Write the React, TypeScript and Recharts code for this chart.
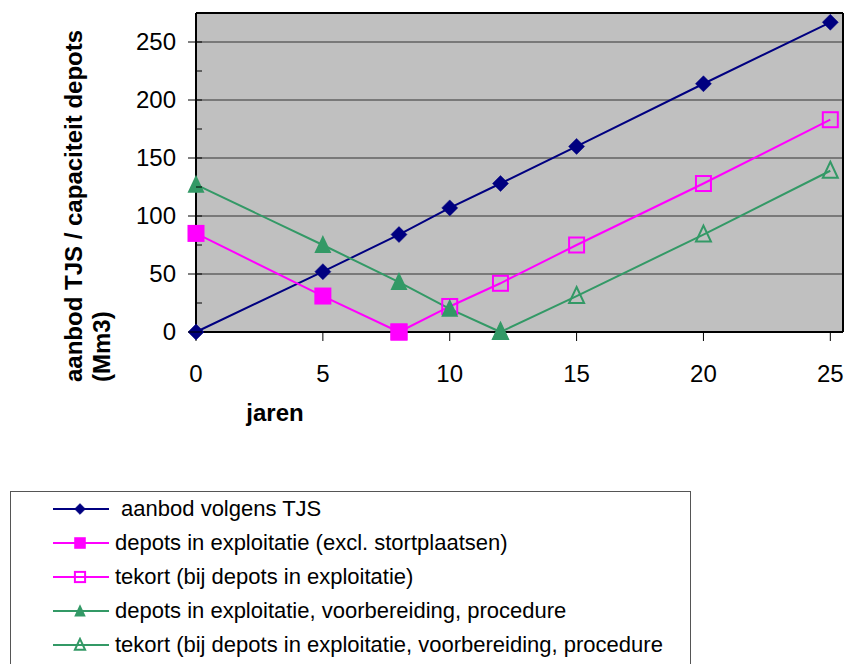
import React from 'react';
import { LineChart, Line, XAxis, YAxis, CartesianGrid, ReferenceLine } from 'recharts';

// Years and volumes (Mm3) per series
const aanbodYears = [0, 5, 8, 10, 12, 15, 20, 25];
const aanbodValues = [0, 52, 84, 107, 128, 160, 214, 267];

const depotsExplYears = [0, 5, 8];
const depotsExplValues = [85, 31, 0];

const tekortExplYears = [8, 10, 12, 15, 20, 25];
const tekortExplValues = [0, 22, 42, 75, 128, 183];

const depotsAllYears = [0, 5, 8, 10, 12];
const depotsAllValues = [127, 75, 43, 20, 0];

const tekortAllYears = [12, 15, 20, 25];
const tekortAllValues = [0, 31, 84, 139];

const xTicks = [0, 5, 10, 15, 20, 25];
const yTicks = [0, 25, 50, 75, 100, 125, 150, 175, 200, 225, 250];
const yLabelTicks = [0, 50, 100, 150, 200, 250];
const gridValues = [50, 100, 150, 200, 250];

const xMax = 25.5;
const yMax = 275;

const FONT = '"Liberation Sans", Arial, sans-serif';

type MarkerKind = 'diamond' | 'square' | 'squareOpen' | 'triangle' | 'triangleOpen';

interface Series {
  name: string;
  color: string;
  marker: MarkerKind;
  years: number[];
  values: number[];
}

const seriesList: Series[] = [
  { name: ' aanbod volgens TJS', color: '#000080', marker: 'diamond', years: aanbodYears, values: aanbodValues },
  { name: 'depots in exploitatie (excl. stortplaatsen)', color: '#ff00ff', marker: 'square', years: depotsExplYears, values: depotsExplValues },
  { name: 'tekort (bij depots in exploitatie)', color: '#ff00ff', marker: 'squareOpen', years: tekortExplYears, values: tekortExplValues },
  { name: 'depots in exploitatie, voorbereiding, procedure', color: '#339966', marker: 'triangle', years: depotsAllYears, values: depotsAllValues },
  { name: 'tekort (bij depots in exploitatie, voorbereiding, procedure', color: '#339966', marker: 'triangleOpen', years: tekortAllYears, values: tekortAllValues },
];

const toPoints = (xs: number[], ys: number[]) => xs.map((x, i) => ({ x, y: ys[i] }));

function markerShape(kind: MarkerKind, cx: number, cy: number, color: string, scale: number, key?: React.Key) {
  const s = scale;
  switch (kind) {
    case 'diamond': {
      const h = 8 * s;
      return <polygon key={key} points={`${cx},${cy - h} ${cx + h},${cy} ${cx},${cy + h} ${cx - h},${cy}`} fill={color} stroke={color} strokeWidth={0.5} />;
    }
    case 'square': {
      const h = 8.5 * s;
      return <rect key={key} x={cx - h} y={cy - h} width={2 * h} height={2 * h} fill={color} />;
    }
    case 'squareOpen': {
      const h = 7.5 * s;
      return <rect key={key} x={cx - h} y={cy - h} width={2 * h} height={2 * h} fill="none" stroke={color} strokeWidth={2} />;
    }
    case 'triangle': {
      const w = 8.5 * s;
      return <polygon key={key} points={`${cx},${cy - 10 * s} ${cx + w},${cy + 8 * s} ${cx - w},${cy + 8 * s}`} fill={color} />;
    }
    case 'triangleOpen': {
      const w = 7.5 * s;
      return <polygon key={key} points={`${cx},${cy - 9 * s} ${cx + w},${cy + 7 * s} ${cx - w},${cy + 7 * s}`} fill="none" stroke={color} strokeWidth={2} />;
    }
  }
  return null;
}

// Left axis: major ticks cross the axis line, minor ticks point inward
const YTick = (props: any) => {
  const { x, y, payload } = props;
  const v = payload.value as number;
  const major = yLabelTicks.includes(v);
  return (
    <g>
      <line x1={major ? x - 8 : x} x2={x + 6} y1={y} y2={y} stroke="#000" strokeWidth={1} />
      {major && (
        <text x={x - 20} y={y} dy="0.35em" textAnchor="end" fontSize={24} fontFamily={FONT} fill="#000">
          {v}
        </text>
      )}
    </g>
  );
};

const YTitle = (props: any) => {
  const vb = props.viewBox || { x: 0, y: 13 };
  const baseY = 382;
  const l1x = vb.x + 82;
  const l2x = vb.x + 110;
  return (
    <g fontFamily={FONT} fontWeight="bold" fontSize={24} fill="#000">
      <text x={l1x} y={baseY} transform={`rotate(-90 ${l1x} ${baseY})`} textAnchor="start">
        aanbod TJS / capaciteit depots
      </text>
      <text x={l2x} y={baseY} transform={`rotate(-90 ${l2x} ${baseY})`} textAnchor="start">
        (Mm3)
      </text>
    </g>
  );
};

const XTitle = (props: any) => {
  const vb = props.viewBox || { x: 196, y: 332 };
  return (
    <text x={vb.x + 79} y={vb.y + 89} textAnchor="middle" fontFamily={FONT} fontWeight="bold" fontSize={24} fill="#000">
      jaren
    </text>
  );
};

function LegendBox() {
  return (
    <div
      style={{
        position: 'absolute',
        left: 10,
        top: 491,
        width: 681,
        height: 173,
        border: '1px solid #555',
        borderBottom: 'none',
        boxSizing: 'border-box',
        background: '#fff',
        fontFamily: FONT,
        fontSize: 22,
        color: '#000',
      }}
    >
      {seriesList.map((s, i) => (
        <div key={i} style={{ display: 'flex', alignItems: 'center', height: 34, paddingLeft: 42 }}>
          <svg width={56} height={16} style={{ display: 'block', flex: '0 0 auto' }}>
            <line x1={0} x2={56} y1={8} y2={8} stroke={s.color} strokeWidth={2} />
            {markerShape(s.marker, 27, 8, s.color, 0.68)}
          </svg>
          <span style={{ marginLeft: 6, whiteSpace: 'pre', lineHeight: 1 }}>{s.name}</span>
        </div>
      ))}
    </div>
  );
}

export default function App() {
  return (
    <div style={{ position: 'absolute', left: 0, top: 0, width: 847, height: 664, overflow: 'hidden', background: '#fff' }}>
      <LineChart width={847} height={664} margin={{ top: 13, right: 4, left: 0, bottom: 242 }}>
        <CartesianGrid vertical={false} horizontalValues={gridValues} fill="#c0c0c0" stroke="#333" strokeWidth={1} />
        <XAxis
          type="number"
          dataKey="x"
          domain={[0, xMax]}
          ticks={xTicks}
          height={90}
          tickSize={9}
          tickMargin={24}
          tickLine={{ stroke: '#000', strokeWidth: 1 }}
          axisLine={{ stroke: '#000', strokeWidth: 2 }}
          tick={{ fontSize: 24, fill: '#000', fontFamily: FONT }}
          label={<XTitle />}
        />
        <YAxis
          type="number"
          domain={[0, yMax]}
          ticks={yTicks}
          width={196}
          tickSize={0}
          tickMargin={0}
          tickLine={false}
          axisLine={{ stroke: '#000', strokeWidth: 2 }}
          tick={<YTick />}
          interval={0}
          label={<YTitle />}
        />
        <ReferenceLine y={yMax} stroke="#000" strokeWidth={2} />
        <ReferenceLine x={xMax} stroke="#000" strokeWidth={2} />
        {seriesList.map((s, i) => (
          <Line
            key={i}
            name={s.name}
            data={toPoints(s.years, s.values)}
            dataKey="y"
            type="linear"
            stroke={s.color}
            strokeWidth={2}
            isAnimationActive={false}
            dot={(p: any) => markerShape(s.marker, p.cx, p.cy, s.color, 1, `${i}-${p.index}`)}
            activeDot={false}
          />
        ))}
      </LineChart>
      <LegendBox />
    </div>
  );
}
